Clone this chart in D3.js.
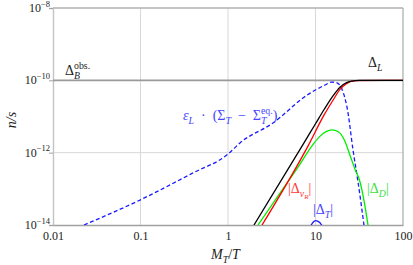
<!DOCTYPE html>
<html>
<head>
<meta charset="utf-8">
<script src="https://cdn.jsdelivr.net/npm/d3@7"></script>
<style>
  body { margin: 0; background: #fff; }
  svg { display: block; }
  svg text { font-family: "Liberation Serif", serif; }
</style>
</head>
<body>
<svg id="chart" width="413" height="265"></svg>
<script>
// values, as log10(M_T/T) and log10(n/s)
const blackLogX = [0.297, 0.853, 1.0, 1.1, 1.2, 1.28, 1.35, 1.42, 1.5, 2.0];
const blackLogY = [-14, -11.79, -11.2, -10.8, -10.43, -10.19, -10.07, -10.02, -10.0, -10.0];

const redLogX = [0.389, 0.92, 1.1, 1.2, 1.28, 1.35, 1.45, 2.0];
const redLogY = [-14, -11.79, -10.95, -10.55, -10.25, -10.1, -10.01, -10.0];

const greenLogX = [0.343, 0.6, 0.8, 0.966, 1.05, 1.12, 1.19, 1.26, 1.33, 1.394, 1.45, 1.509, 1.56, 1.6];
const greenLogY = [-14, -13.1, -12.4, -11.79, -11.55, -11.42, -11.37, -11.42, -11.65, -12.07, -12.45, -12.81, -13.4, -14];

const sigmaLogX = [-1.646, -1.006, -0.4, 0, 0.137, 0.514, 0.903, 1.1, 1.189, 1.246, 1.36, 1.429, 1.486, 1.554];
const sigmaLogY = [-14, -13.31, -12.56, -12.04, -11.73, -11.18, -10.41, -10.14, -10.05, -10.07, -10.74, -11.93, -12.81, -14];

const deltaTLogX = [0.94, 0.97, 1.0, 1.03, 1.07, 1.09];
const deltaTLogY = [-14.05, -13.93, -13.88, -13.9, -14.0, -14.1];

const obsValue = 1e-10;
const xTicks = [0.01, 0.1, 1, 10, 100];
const xTickLabels = ['0.01', '0.1', '1', '10', '100'];
const yTicks = [1e-8, 1e-10, 1e-12, 1e-14];
const yTickExps = ['\u22128', '\u221210', '\u221212', '\u221214'];

const FONT = '"Liberation Serif", serif';
const svg = d3.select('#chart').attr('font-family', FONT);
const plotL = 53, plotR = 403, plotT = 8, plotB = 225;

const x = d3.scaleLog().domain([0.01, 100]).range([plotL, plotR]);
const y = d3.scaleLog().domain([1e-14, 1e-8]).range([plotB, plotT]);

svg.append('defs').append('clipPath').attr('id', 'plot-clip')
  .append('rect').attr('x', plotL).attr('y', plotT)
  .attr('width', plotR - plotL).attr('height', plotB - plotT);

// grid
const grid = svg.append('g').attr('stroke', '#d8d8d8').attr('stroke-width', 1);
grid.selectAll('line.v').data(xTicks.slice(1, -1)).join('line')
  .attr('x1', d => x(d)).attr('x2', d => x(d))
  .attr('y1', plotT).attr('y2', plotB);
grid.selectAll('line.h').data([1e-12]).join('line')
  .attr('x1', plotL).attr('x2', plotR)
  .attr('y1', d => y(d)).attr('y2', d => y(d));

// frame
svg.append('line').attr('x1', plotL).attr('x2', plotR).attr('y1', plotT).attr('y2', plotT)
  .attr('stroke', '#b0b0b0').attr('stroke-width', 1.3);
svg.append('line').attr('x1', plotR).attr('x2', plotR).attr('y1', plotT).attr('y2', plotB)
  .attr('stroke', '#b0b0b0').attr('stroke-width', 1.3);

// y axis
const yAxis = svg.append('g').attr('transform', `translate(${plotL},0)`)
  .call(d3.axisLeft(y).tickValues(yTicks).tickSize(4).tickFormat(''));
yAxis.attr('font-family', FONT);
yAxis.select('.domain').attr('stroke', '#c4c4c4').attr('stroke-width', 1.4);
yAxis.selectAll('.tick line').attr('stroke', '#a0a0a0');

const yLab = svg.append('g').attr('font-size', 12).attr('fill', '#222');
yTicks.forEach((v, i) => {
  const t = yLab.append('text').attr('font-family', FONT)
    .attr('x', 50).attr('y', y(v) + 4).attr('text-anchor', 'end');
  t.append('tspan').text('10');
  t.append('tspan').attr('dy', -5.5).attr('font-size', 8.5).text(yTickExps[i]);
});

// x axis
const xAxis = svg.append('g').attr('transform', `translate(0,${plotB})`)
  .call(d3.axisBottom(x).tickValues(xTicks).tickSize(0).tickPadding(6)
    .tickFormat((d, i) => xTickLabels[i]));
xAxis.attr('font-family', FONT).attr('font-size', 12);
xAxis.select('.domain').attr('stroke', '#a0a0a0').attr('stroke-width', 1.3);
xAxis.selectAll('text').attr('fill', '#222').attr('font-family', FONT);

// observed baryon asymmetry line
svg.append('line').attr('x1', plotL).attr('x2', plotR)
  .attr('y1', y(obsValue)).attr('y2', y(obsValue))
  .attr('stroke', '#9a9a9a').attr('stroke-width', 1.8);

// curves
const line = d3.line()
  .x(d => x(Math.pow(10, d[0])))
  .y(d => y(Math.pow(10, d[1])))
  .curve(d3.curveMonotoneX);

const curves = svg.append('g').attr('clip-path', 'url(#plot-clip)').attr('fill', 'none');

function drawCurve(xs, ys, color, dash) {
  curves.append('path')
    .datum(d3.zip(xs, ys))
    .attr('d', line)
    .attr('stroke', color)
    .attr('stroke-width', 1.3)
    .attr('stroke-dasharray', dash || null);
}

drawCurve(sigmaLogX, sigmaLogY, '#1a1aff', '4,2.5');
drawCurve(greenLogX, greenLogY, '#00ee00');
drawCurve(deltaTLogX, deltaTLogY, '#1a1aff');
drawCurve(redLogX, redLogY, '#ff0000');
drawCurve(blackLogX, blackLogY, '#000000');

// math-like labels built from tspans
function mathLabel(x0, y0, parts, size, color) {
  const t = svg.append('text').attr('x', x0).attr('y', y0)
    .attr('font-family', FONT).attr('font-size', size).attr('fill', color);
  let cur = 0, lastLen = 0;
  parts.forEach(([str, kind, italic]) => {
    let shift = 0, fs = size;
    if (kind === 'sub') { shift = size * 0.3; fs = size * 0.7; }
    if (kind === 'subsub') { shift = size * 0.45; fs = size * 0.5; }
    if (kind === 'sup' || kind === 'supstack') { shift = -size * 0.42; fs = size * 0.7; }
    const ts = t.append('tspan')
      .attr('dy', shift - cur)
      .attr('font-size', fs)
      .attr('font-style', italic ? 'italic' : 'normal')
      .text(str);
    if (kind === 'supstack') ts.attr('dx', -lastLen);
    lastLen = ts.node().getComputedTextLength();
    cur = shift;
  });
  return t;
}

mathLabel(65, 75, [['\u0394', '', false], ['B', 'sub', true], ['obs.', 'supstack', false]], 14, '#222');
mathLabel(368, 67, [['\u0394', '', false], ['L', 'sub', true]], 14, '#222');
mathLabel(183, 120, [
  ['\u03b5', '', true], ['L', 'sub', true], ['\u2002\u00b7\u2002(\u03a3', '', false], ['T', 'sub', true],
  ['\u2002\u2212\u2002\u03a3', '', false], ['T', 'sub', true], ['eq.', 'supstack', false], [')', '', false]
], 14, '#4646ff');
mathLabel(288, 193, [['|\u0394', '', false], ['\u03bd', 'sub', true], ['R', 'subsub', true], ['|', '', false]], 14, '#ff3a3a');
mathLabel(367, 193, [['|\u0394', '', false], ['D', 'sub', true], ['|', '', false]], 14, '#3ee03e');
mathLabel(313, 214, [['|\u0394', '', false], ['T', 'sub', true], ['|', '', false]], 14, '#4646ff');

// axis titles
mathLabel(211, 259, [['M', '', true], ['T', 'sub', true], ['/', '', false], ['T', '', true]], 14, '#222');
svg.append('text')
  .attr('transform', 'translate(16,120) rotate(-90)')
  .attr('text-anchor', 'middle').attr('font-family', FONT)
  .attr('font-size', 14).attr('font-style', 'italic').attr('fill', '#222')
  .text('n/s');
</script>
</body>
</html>
